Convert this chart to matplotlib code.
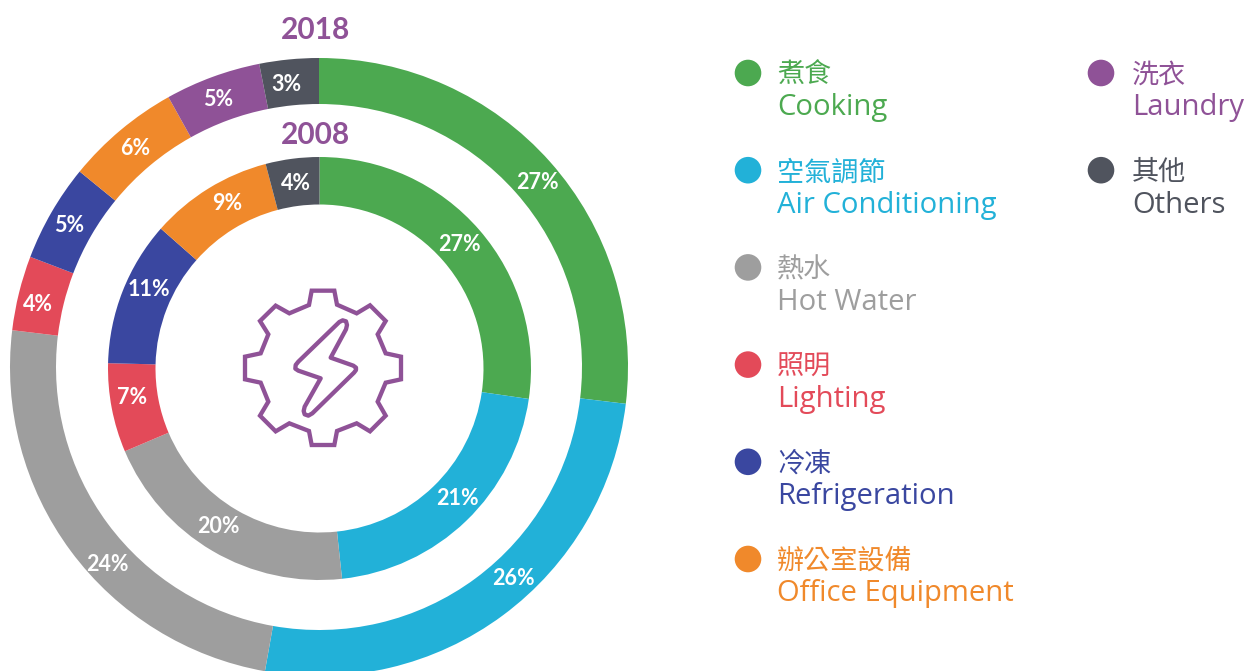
import matplotlib
matplotlib.use("Agg")
import matplotlib.pyplot as plt
from matplotlib.patches import Circle, Polygon

plt.rcParams['font.family'] = ['Open Sans', 'Noto Sans CJK TC', 'DejaVu Sans']

names_zh = ["煮食", "空氣調節", "熱水", "照明", "冷凍", "辦公室設備", "洗衣", "其他"]
names_en = ["Cooking", "Air Conditioning", "Hot Water", "Lighting", "Refrigeration",
            "Office Equipment", "Laundry", "Others"]
colors = ["#4CA950", "#22B1D8", "#9E9E9E", "#E34A59", "#3A47A0", "#F0892B", "#8F5297", "#50545E"]

share_2018 = [26.9, 25.9, 24.1, 3.9, 5.1, 6.0, 5.0, 3.1]
share_2008 = [27.3, 21.0, 20.3, 6.8, 11.1, 9.4, 0, 4.1]
labels_2018 = ["27%", "26%", "24%", "4%", "5%", "6%", "5%", "3%"]
labels_2008 = ["27%", "21%", "20%", "7%", "11%", "9%", "", "4%"]

W, H = 1247, 671
PURPLE = "#8F5297"

# label anchors in image pixels, the source does not centre them on the wedges
pos_2018 = [(537, 181), (513, 577), (107, 563), (38, 303), (69, 224), (135, 147), (218, 98), (286, 83)]
pos_2008 = [(459, 243), (457, 497), (218, 525), (132, 396), (149, 288), (227, 202), (0, 0), (296, 182)]

# gear and bolt outline of the centre icon, in zoomed crop pixels
gear = [(275, 62), (343, 62), (351, 104), (410, 130), (450, 106), (497, 153), (473, 193),
        (497, 250), (543, 260), (543, 328), (497, 338), (473, 395), (497, 437), (450, 484),
        (410, 460), (351, 483), (343, 525), (275, 525), (267, 483), (208, 460), (167, 484),
        (120, 437), (145, 395), (122, 338), (75, 328), (75, 260), (122, 250), (145, 193),
        (120, 153), (167, 107), (208, 130), (267, 105)]
bolt = [(358, 156), (368, 151), (378, 154), (381, 165), (378, 178), (332, 263), (400, 287),
        (408, 293), (408, 300), (402, 308), (277, 430), (265, 437), (254, 433), (251, 423),
        (254, 410), (302, 325), (235, 302), (226, 296), (227, 285), (235, 275)]


def to_fig(pt):
    return 220 + pt[0] / 3, H - (270 + pt[1] / 3)


fig = plt.figure(figsize=(W / 100, H / 100), dpi=100)
ax = fig.add_axes([0, 0, 1, 1])

rings = [(share_2018, labels_2018, pos_2018, (319, H - 367), 309, 46),
         (share_2008, labels_2008, pos_2008, (319.5, H - 368.5), 211.5, 47.5)]
for shares, labels, positions, center, radius, width in rings:
    ax.pie(shares, colors=colors, radius=radius, center=center, startangle=90,
           counterclock=False, wedgeprops={"width": width, "linewidth": 0})
    for lab, (px, py) in zip(labels, positions):
        if lab:
            ax.text(px, H - (py + 1.5), lab, color="white", fontsize=15.5, fontweight="bold",
                    family=["Lato", "DejaVu Sans"], ha="center", va="center")

ax.set_xlim(0, W)
ax.set_ylim(0, H)
ax.set_aspect("equal")
ax.axis("off")

ax.text(315, H - 30, "2018", color=PURPLE, fontsize=21.5, fontweight="bold",
        family=["Lato", "DejaVu Sans"], ha="center", va="center")
ax.text(315, H - 135, "2008", color=PURPLE, fontsize=21.5, fontweight="bold",
        family=["Lato", "DejaVu Sans"], ha="center", va="center")

ax.add_patch(Polygon([to_fig(p) for p in gear], closed=True, fill=False, edgecolor=PURPLE,
                     linewidth=3.1, joinstyle="miter"))
ax.add_patch(Polygon([to_fig(p) for p in bolt], closed=True, fill=False, edgecolor=PURPLE,
                     linewidth=3.1, joinstyle="round"))

# legend: six rows on the left, two on the right
for i, (zh, en, c) in enumerate(zip(names_zh, names_en, colors)):
    col = 0 if i < 6 else 1
    row = i if i < 6 else i - 6
    mx = 748 if col == 0 else 1101
    tx = 777 if col == 0 else 1132
    y = 73 + row * 97.2
    ax.add_patch(Circle((mx, H - y), 13.3, color=c, linewidth=0))
    ax.text(tx, H - (y + 2.5), zh, color=c, fontsize=19.5, family=["Noto Sans CJK TC", "DejaVu Sans"],
            ha="left", va="center")
    ax.text(tx, H - (y + 35), en, color=c, fontsize=21.1, ha="left", va="center")

fig.savefig("out.png", dpi=100)
